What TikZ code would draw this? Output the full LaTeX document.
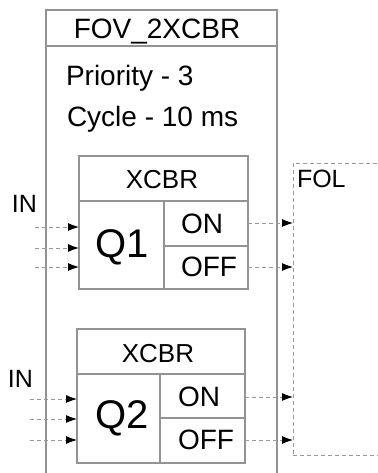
\documentclass[tikz,border=0pt]{standalone}
\usepackage{fontspec}
\setmainfont{Liberation Sans}
\usetikzlibrary{arrows.meta}
\begin{document}
\begin{tikzpicture}[x=1pt,y=-1pt,
  box/.style={draw=gray!85,line width=1.1pt,rectangle,inner sep=0pt,outer sep=0pt,anchor=north west},
  txt/.style={inner sep=0pt,outer sep=0pt,font=\fontsize{28}{30}\selectfont,text=black},
  mid/.style={inner sep=0pt,outer sep=0pt,font=\fontsize{26}{30}\selectfont,text=black},
  big/.style={inner sep=0pt,outer sep=0pt,font=\fontsize{40}{44}\selectfont,text=black},
  sml/.style={inner sep=0pt,outer sep=0pt,font=\fontsize{25}{30}\selectfont,text=black},
  sig/.style={draw=gray!80,line width=0.9pt,dash pattern=on 4pt off 3pt,-{Latex[black,length=11pt,width=8pt]}},
  fol/.style={draw=gray!80,line width=0.9pt,dash pattern=on 4pt off 3pt,rectangle,inner sep=0pt,outer sep=0pt,anchor=north west}
]
\useasboundingbox (0,0) rectangle (377,473);
% outer block
\node[box,minimum width=231pt,minimum height=36pt] (title) at (46,10) {};
\node[box,minimum width=231pt,minimum height=440pt] (body) at (46,46) {};
\node[txt,anchor=base] (fov) at (157,39) {FOV\_2XCBR};
\node[txt,anchor=base west] (prio) at (66,86) {Priority - 3};
\node[txt,anchor=base west] (cyc) at (67,127) {Cycle - 10 ms};
% FOL
\node[fol,minimum width=120pt,minimum height=292pt] (folbox) at (293,163) {};
\node[sml,anchor=base west] (fol) at (297,187) {FOL};
% Q1
\node[box,minimum width=169pt,minimum height=45pt] (q1head) at (79,156) {};
\node[box,minimum width=85pt,minimum height=88pt] (q1name) at (79,201) {};
\node[box,minimum width=84pt,minimum height=45pt] (q1on) at (164,201) {};
\node[box,minimum width=84pt,minimum height=43pt] (q1off) at (164,246) {};
\node[mid,anchor=base] (q1x) at (162,188) {XCBR};
\node[big,anchor=base] (q1t) at (122.5,257) {Q1};
\node[txt,anchor=base west] (q1ont) at (181,233) {ON};
\node[txt,anchor=base west] (q1offt) at (181,276) {OFF};
\node[sml,anchor=base west] (in1) at (12,212) {IN};
\coordinate (a1) at (35,227);
\coordinate (a2) at (35,248);
\coordinate (a3) at (35,267);
\draw[sig] (a1) -- (q1name.west |- a1);
\draw[sig] (a2) -- (q1name.west |- a2);
\draw[sig] (a3) -- (q1name.west |- a3);
\draw[sig] (q1on.east |- 0,223) -- (folbox.west |- 0,223);
\draw[sig] (q1off.east |- 0,267) -- (folbox.west |- 0,267);
% Q2
\node[box,minimum width=168pt,minimum height=45pt] (q2head) at (77,329) {};
\node[box,minimum width=83pt,minimum height=89pt] (q2name) at (77,374) {};
\node[box,minimum width=85pt,minimum height=44pt] (q2on) at (160,374) {};
\node[box,minimum width=85pt,minimum height=45pt] (q2off) at (160,418) {};
\node[mid,anchor=base] (q2x) at (158,362) {XCBR};
\node[big,anchor=base] (q2t) at (122.5,428) {Q2};
\node[txt,anchor=base west] (q2ont) at (178,406) {ON};
\node[txt,anchor=base west] (q2offt) at (178,449) {OFF};
\node[sml,anchor=base west] (in2) at (8,387) {IN};
\coordinate (b1) at (30,399);
\coordinate (b2) at (30,419);
\coordinate (b3) at (30,440);
\draw[sig] (b1) -- (q2name.west |- b1);
\draw[sig] (b2) -- (q2name.west |- b2);
\draw[sig] (b3) -- (q2name.west |- b3);
\draw[sig] (q2on.east |- 0,397) -- (folbox.west |- 0,397);
\draw[sig] (q2off.east |- 0,440) -- (folbox.west |- 0,440);
\end{tikzpicture}
\end{document}
